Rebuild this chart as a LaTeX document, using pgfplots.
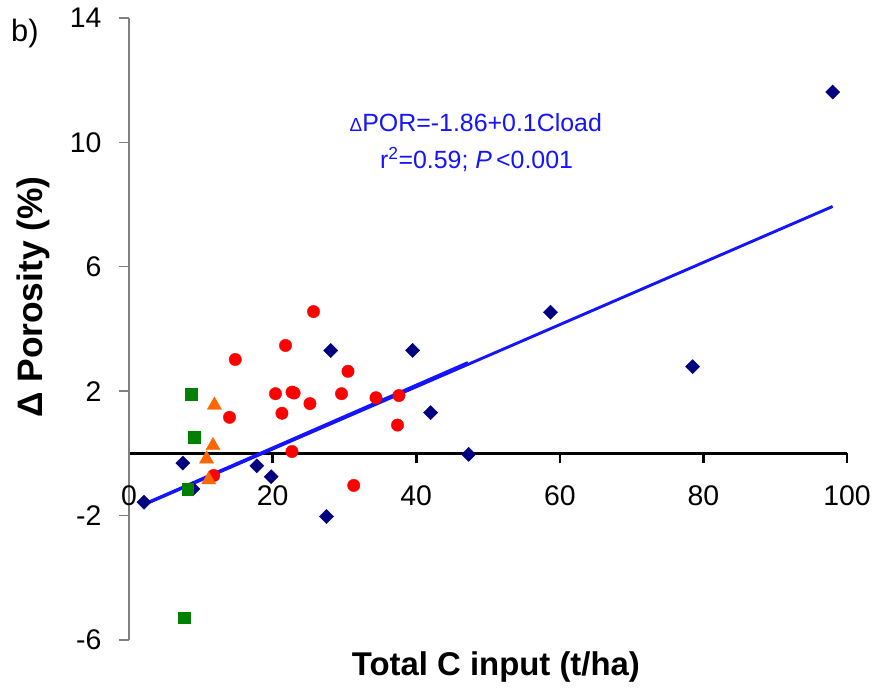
\documentclass[border=0pt]{standalone}
\usepackage{pgfplots}
\pgfplotsset{compat=1.18}
\usepackage{fontspec}
\setmainfont{Liberation Sans}
\definecolor{navyd}{RGB}{0,0,128}
\definecolor{grn}{RGB}{0,128,0}
\definecolor{org}{RGB}{255,102,0}
\definecolor{linblue}{RGB}{20,20,255}
\definecolor{axgray}{RGB}{128,128,128}
\begin{document}
\begin{tikzpicture}
\begin{axis}[name=ax, scale only axis, width=718bp, height=622bp,
  xmin=0, xmax=100, ymin=-6, ymax=14,
  axis x line*=middle, axis y line*=left,
  hide obscured x ticks=false, hide obscured y ticks=false,
  xtick={0,20,40,60,80,100}, ytick={-6,-2,2,6,10,14},
  x axis line style={black, line width=2.6bp},
  y axis line style={axgray, line width=1.4bp},
  xtick style={black, line width=2.6bp},
  ytick style={axgray, line width=1.4bp},
  tick align=outside, major tick length=10bp,
  tick label style={font=\fontsize{28.5}{30}\selectfont},
  xticklabel style={yshift=-19bp},
  yticklabel style={xshift=-14bp},
  /pgf/number format/assume math mode=true,
  clip=false,
  xlabel={\bfseries Total C input (t/ha)},
  ylabel={\bfseries Δ Porosity (\%)},
  xlabel style={font=\fontsize{33}{35}\selectfont, at={(rel axis cs:0.511,-0.0434)}, anchor=center},
  ylabel style={font=\fontsize{35.5}{37}\selectfont, at={(rel axis cs:-0.1337,0.5514)}, anchor=center},
]
% regression lines
\addplot[linblue, line width=2.9bp] coordinates {(2.9,-1.57) (98,7.94)};
\addplot[linblue, line width=2.9bp] coordinates {(2.9,-1.55) (47.2,2.92)};
% navy diamonds
\addplot[only marks, mark=square*, mark size=5.0bp, color=navyd, mark options={rotate=45, fill=navyd}] coordinates {
(2.1,-1.57) (7.5,-0.31) (8.9,-1.14) (17.8,-0.40) (19.8,-0.75) (28.1,3.31) (27.5,-2.03)
(39.5,3.31) (42.0,1.31) (47.3,-0.03) (58.7,4.54) (78.5,2.79) (98.0,11.62)};
% red circles
\addplot[only marks, mark=*, mark size=6.2bp, color=red, mark options={fill=red}] coordinates {
(11.8,-0.71) (14.0,1.16) (14.8,3.02) (20.4,1.92) (21.3,1.29) (21.8,3.47) (22.7,1.97) (23.0,1.94)
(22.7,0.06) (25.2,1.60) (25.7,4.56) (29.6,1.92) (30.5,2.64) (31.3,-1.03) (34.4,1.79) (37.6,1.86) (37.4,0.91)};
% green squares
\addplot[only marks, mark=square*, mark size=5.8bp, color=grn, mark options={fill=grn}] coordinates {
(8.7,1.91) (9.1,0.53) (8.2,-1.15) (7.7,-5.28)};
% orange triangles
\addplot[only marks, mark=triangle*, mark size=8.2bp, color=org, mark options={fill=org}] coordinates {
(11.9,1.55) (11.7,0.25) (10.8,-0.18) (11.1,-0.85)};
\node[linblue, font=\fontsize{25}{27}\selectfont, anchor=center] at (axis cs:48.3,10.63) {{\fontsize{19}{19}\selectfont Δ}POR=-1.86+0.1Cload};
\node[linblue, font=\fontsize{25}{27}\selectfont, anchor=center] at (axis cs:48.4,9.44) {r\textsuperscript{2}=0.59; \textit{P}\,<0.001};
\node[font=\fontsize{31}{33}\selectfont, anchor=center] at (rel axis cs:-0.145,0.975) {b)};
\end{axis}
\pgfresetboundingbox
\path[use as bounding box] (ax.south west) ++(-129bp,-57bp) rectangle ++(873bp,697bp);
\end{tikzpicture}
\end{document}
